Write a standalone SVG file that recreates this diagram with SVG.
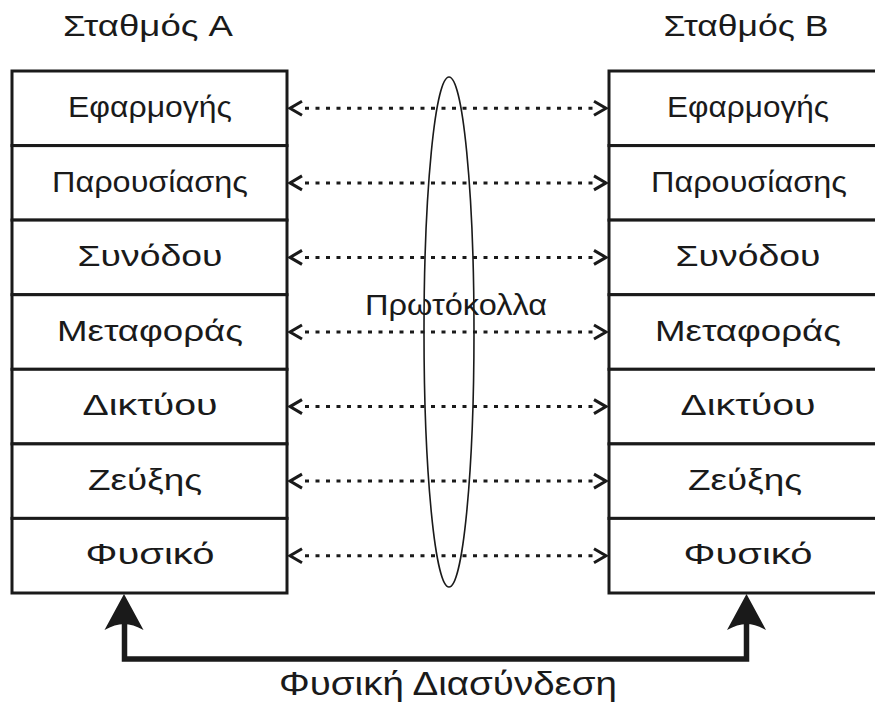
<svg xmlns="http://www.w3.org/2000/svg" width="875" height="702" viewBox="0 0 875 702">
  <style>
    .box { fill: #ffffff; stroke: #1a1a1a; stroke-width: 3; }
    .lbl { font-family: "Liberation Sans", Arial, sans-serif; font-size: 29px; fill: #1a1a1a; text-anchor: middle; }
    .ttl { font-family: "Liberation Sans", Arial, sans-serif; font-size: 29px; fill: #1a1a1a; text-anchor: middle; }
    .big { font-family: "Liberation Sans", Arial, sans-serif; font-size: 33px; fill: #1a1a1a; text-anchor: middle; }
    .dot { stroke: #1a1a1a; stroke-width: 3; stroke-dasharray: 4 6.5; fill: none; }
    .chev { stroke: #1a1a1a; stroke-width: 3; fill: none; }
    .phys { stroke: #1a1a1a; stroke-width: 5.5; fill: none; }
    .head { fill: #1a1a1a; }
  </style>
  <rect width="875" height="702" fill="#ffffff"/>

  <g id="title-A"><text class="ttl" x="148" y="36" textLength="170" lengthAdjust="spacingAndGlyphs">Σταθμός A</text></g>
  <g id="title-B"><text class="ttl" x="746" y="36" textLength="165" lengthAdjust="spacingAndGlyphs">Σταθμός B</text></g>

  <g id="A-app"><rect class="box" x="12" y="71" width="275" height="74.6"/><text class="lbl" x="150" y="117" textLength="164" lengthAdjust="spacingAndGlyphs">Εφαρμογής</text></g>
  <g id="A-pres"><rect class="box" x="12" y="145.6" width="275" height="74.5"/><text class="lbl" x="150" y="191.5" textLength="196" lengthAdjust="spacingAndGlyphs">Παρουσίασης</text></g>
  <g id="A-sess"><rect class="box" x="12" y="220.1" width="275" height="74.6"/><text class="lbl" x="150" y="266" textLength="145" lengthAdjust="spacingAndGlyphs">Συνόδου</text></g>
  <g id="A-trans"><rect class="box" x="12" y="294.7" width="275" height="74.6"/><text class="lbl" x="150" y="340.5" textLength="186" lengthAdjust="spacingAndGlyphs">Μεταφοράς</text></g>
  <g id="A-net"><rect class="box" x="12" y="369.3" width="275" height="74.6"/><text class="lbl" x="150" y="415" textLength="135" lengthAdjust="spacingAndGlyphs">Δικτύου</text></g>
  <g id="A-link"><rect class="box" x="12" y="443.9" width="275" height="74.5"/><text class="lbl" x="145" y="489.5" textLength="114" lengthAdjust="spacingAndGlyphs">Ζεύξης</text></g>
  <g id="A-phys"><rect class="box" x="12" y="518.4" width="275" height="74.6"/><text class="lbl" x="150" y="564" textLength="129" lengthAdjust="spacingAndGlyphs">Φυσικό</text></g>

  <g id="B-app"><rect class="box" x="609" y="71" width="277" height="74.6"/><text class="lbl" x="748" y="117" textLength="162" lengthAdjust="spacingAndGlyphs">Εφαρμογής</text></g>
  <g id="B-pres"><rect class="box" x="609" y="145.6" width="277" height="74.5"/><text class="lbl" x="749" y="191.5" textLength="196" lengthAdjust="spacingAndGlyphs">Παρουσίασης</text></g>
  <g id="B-sess"><rect class="box" x="609" y="220.1" width="277" height="74.6"/><text class="lbl" x="748" y="266" textLength="145" lengthAdjust="spacingAndGlyphs">Συνόδου</text></g>
  <g id="B-trans"><rect class="box" x="609" y="294.7" width="277" height="74.6"/><text class="lbl" x="748" y="340.5" textLength="186" lengthAdjust="spacingAndGlyphs">Μεταφοράς</text></g>
  <g id="B-net"><rect class="box" x="609" y="369.3" width="277" height="74.6"/><text class="lbl" x="748" y="415" textLength="135" lengthAdjust="spacingAndGlyphs">Δικτύου</text></g>
  <g id="B-link"><rect class="box" x="609" y="443.9" width="277" height="74.5"/><text class="lbl" x="745" y="489.5" textLength="114" lengthAdjust="spacingAndGlyphs">Ζεύξης</text></g>
  <g id="B-phys"><rect class="box" x="609" y="518.4" width="277" height="74.6"/><text class="lbl" x="748" y="564" textLength="129" lengthAdjust="spacingAndGlyphs">Φυσικό</text></g>

  <g id="protocols">
    <ellipse cx="449" cy="332" rx="25" ry="255" fill="none" stroke="#1a1a1a" stroke-width="1.6"/>
    <text class="lbl" x="456" y="315" textLength="182" lengthAdjust="spacingAndGlyphs">Πρωτόκολλα</text>
  </g>

  <g id="connectors">
    <g id="peer-links">
      <path class="dot" d="M305 108.3H594 M305 182.9H594 M305 257.4H594 M305 332H594 M305 406.6H594 M305 481.1H594 M305 555.7H594"/>
      <path class="chev" d="M302 101.3L290 108.3L302 115.3 M594 101.3L606 108.3L594 115.3"/>
      <path class="chev" d="M302 175.9L290 182.9L302 189.9 M594 175.9L606 182.9L594 189.9"/>
      <path class="chev" d="M302 250.4L290 257.4L302 264.4 M594 250.4L606 257.4L594 264.4"/>
      <path class="chev" d="M302 325L290 332L302 339 M594 325L606 332L594 339"/>
      <path class="chev" d="M302 399.6L290 406.6L302 413.6 M594 399.6L606 406.6L594 413.6"/>
      <path class="chev" d="M302 474.1L290 481.1L302 488.1 M594 474.1L606 481.1L594 488.1"/>
      <path class="chev" d="M302 548.7L290 555.7L302 562.7 M594 548.7L606 555.7L594 562.7"/>
    </g>
    <g id="physical-link">
      <path class="phys" d="M124.5 622V659H746.5V622"/>
      <path class="head" d="M124 594L143.5 630Q133 624 124 624Q115 624 104.5 630Z"/>
      <path class="head" d="M746.5 594L766 630Q755.5 624 746.5 624Q737.5 624 727 630Z"/>
    </g>
  </g>

  <g id="physical-label"><text class="big" x="448" y="695" textLength="338" lengthAdjust="spacingAndGlyphs">Φυσική Διασύνδεση</text></g>
</svg>
